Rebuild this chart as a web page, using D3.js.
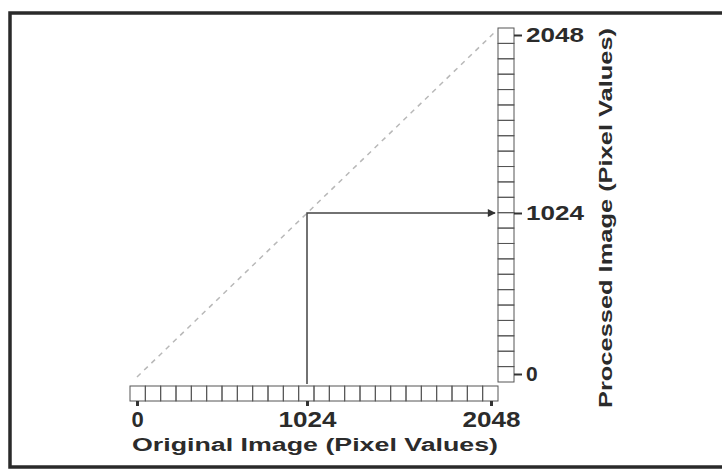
<!DOCTYPE html>
<html>
<head>
<meta charset="utf-8">
<title>Pixel mapping</title>
<script src="https://cdnjs.cloudflare.com/ajax/libs/d3/7.8.5/d3.min.js"></script>
<style>
body { margin: 0; background: #ffffff; }
svg text { font-family: "Liberation Sans", Arial, sans-serif; font-weight: bold; fill: #2b2b2b; }
.cell { fill: none; stroke: #555; stroke-width: 1; }
.tick line { stroke: #333; }
</style>
</head>
<body>
<script>
// chart values
var xTickValues = [0, 1024, 2048];
var yTickValues = [0, 1024, 2048];
var xCellCount = 24;
var yCellCount = 23;
var mappedInput = 1024;
var mappedOutput = 1024;
var xTitle = "Original Image (Pixel Values)";
var yTitle = "Processed Image (Pixel Values)";

var width = 722, height = 469;

var svg = d3.select("body").append("svg")
  .attr("width", width)
  .attr("height", height);

// frame
svg.append("rect")
  .attr("x", 10).attr("y", 13)
  .attr("width", 730).attr("height", 454)
  .attr("fill", "none")
  .attr("stroke", "#2a2a2a")
  .attr("stroke-width", 3.5);

var x = d3.scaleLinear().domain(xTickValues).range([137, 307, 491]);
var y = d3.scaleLinear().domain(yTickValues).range([374, 213, 35]);

// identity line (dashed)
svg.append("line")
  .attr("x1", x(0)).attr("y1", y(0) + 3)
  .attr("x2", x(2048) + 5).attr("y2", y(2048) - 4)
  .attr("stroke", "#b8b8b8")
  .attr("stroke-width", 1.5)
  .attr("stroke-dasharray", "5,5");

// horizontal cell strip
var hx = d3.scaleBand().domain(d3.range(xCellCount)).range([130, 498]);
svg.append("g").selectAll("rect")
  .data(d3.range(xCellCount))
  .join("rect")
  .attr("class", "cell")
  .attr("x", function(d) { return hx(d); })
  .attr("y", 386)
  .attr("width", hx.bandwidth())
  .attr("height", 15);

// vertical cell strip
var vy = d3.scaleBand().domain(d3.range(yCellCount)).range([28, 382]);
svg.append("g").selectAll("rect")
  .data(d3.range(yCellCount))
  .join("rect")
  .attr("class", "cell")
  .attr("x", 498)
  .attr("y", function(d) { return vy(d); })
  .attr("width", 16)
  .attr("height", vy.bandwidth());

function stretch(sel) {
  sel.each(function(d) {
    var s = d3.format("d")(d);
    if (s.length > 1) {
      d3.select(this).attr("textLength", s.length * 14.5).attr("lengthAdjust", "spacingAndGlyphs");
    }
  });
}

// bottom axis
var xAxis = svg.append("g")
  .attr("transform", "translate(0,401)")
  .call(d3.axisBottom(x).tickValues(xTickValues).tickSize(5).tickPadding(6).tickFormat(d3.format("d")));
xAxis.select(".domain").remove();
xAxis.selectAll(".tick line").attr("stroke-width", 3);
xAxis.selectAll(".tick text").attr("font-size", 22).attr("fill", "#2b2b2b")
  .attr("dy", "0.68em").call(stretch);

// right axis
var yAxis = svg.append("g")
  .attr("transform", "translate(514,0)")
  .call(d3.axisRight(y).tickValues(yTickValues).tickSize(8).tickPadding(4).tickFormat(d3.format("d")));
yAxis.select(".domain").remove();
yAxis.selectAll(".tick line").attr("stroke-width", 2);
yAxis.selectAll(".tick text").attr("font-size", 21).attr("fill", "#2b2b2b").call(stretch);

// axis titles
svg.append("text")
  .attr("x", 132).attr("y", 451)
  .attr("font-size", 18)
  .attr("textLength", 366)
  .attr("lengthAdjust", "spacingAndGlyphs")
  .text(xTitle);

svg.append("text")
  .attr("transform", "translate(612,408) rotate(-90)")
  .attr("font-size", 19)
  .attr("textLength", 380)
  .attr("lengthAdjust", "spacingAndGlyphs")
  .text(yTitle);

// mapping arrow
svg.append("defs").append("marker")
  .attr("id", "arrow")
  .attr("viewBox", "0 0 10 10")
  .attr("refX", 9).attr("refY", 5)
  .attr("markerWidth", 9).attr("markerHeight", 8)
  .attr("markerUnits", "userSpaceOnUse")
  .attr("orient", "auto")
  .append("path")
  .attr("d", "M0,0L10,5L0,10Z")
  .attr("fill", "#333");

svg.append("path")
  .attr("d", d3.line()([[x(mappedInput), 384], [x(mappedInput), y(mappedOutput)], [495, y(mappedOutput)]]))
  .attr("fill", "none")
  .attr("stroke", "#444")
  .attr("stroke-width", 1.5)
  .attr("marker-end", "url(#arrow)");
</script>
</body>
</html>
